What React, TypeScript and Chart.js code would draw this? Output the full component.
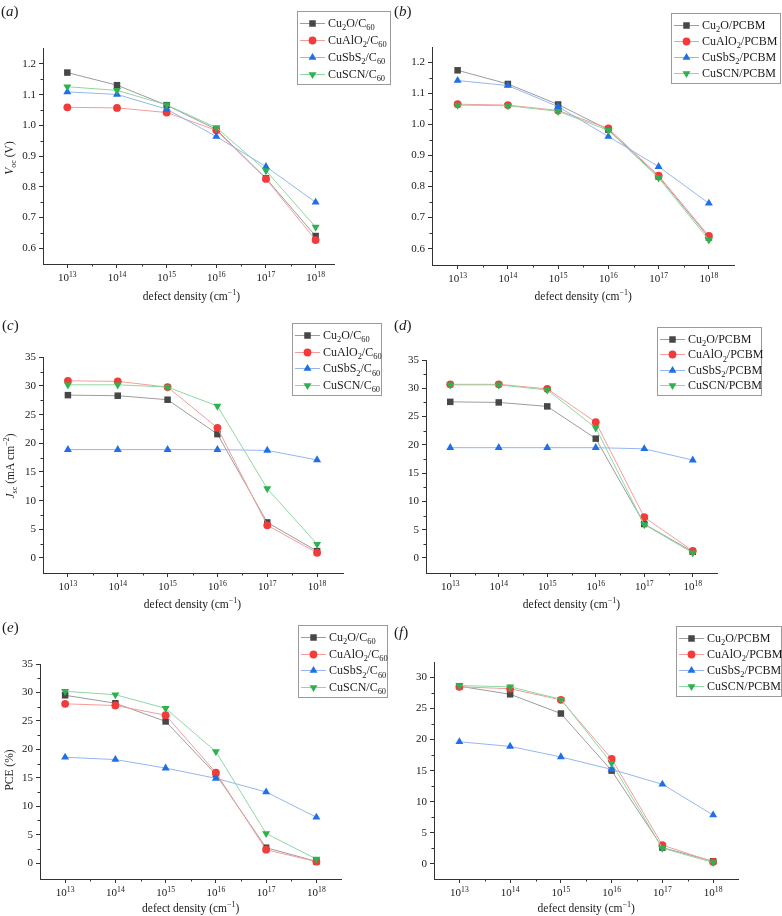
import React, { useEffect, useRef } from 'react';
import { Chart, registerables } from 'chart.js';
import { drawPoint } from 'chart.js/helpers';

Chart.register(...registerables);

// ---------------- data ----------------
const defectExponents = [13, 14, 15, 16, 17, 18];

const seriesC60 = ['Cu2O/C60', 'CuAlO2/C60', 'CuSbS2/C60', 'CuSCN/C60'];
const seriesPCBM = ['Cu2O/PCBM', 'CuAlO2/PCBM', 'CuSbS2/PCBM', 'CuSCN/PCBM'];

const vocTicks = [0.6, 0.7, 0.8, 0.9, 1.0, 1.1, 1.2];
const jscTicks = [0, 5, 10, 15, 20, 25, 30, 35];
const pceC60Ticks = [0, 5, 10, 15, 20, 25, 30, 35];
const pcePCBMTicks = [0, 5, 10, 15, 20, 25, 30];

// (a) Voc, C60
const vocC60Cu2O = [1.172, 1.131, 1.066, 0.987, 0.828, 0.64];
const vocC60CuAlO2 = [1.059, 1.057, 1.042, 0.984, 0.826, 0.627];
const vocC60CuSbS2 = [1.109, 1.101, 1.053, 0.964, 0.866, 0.75];
const vocC60CuSCN = [1.126, 1.114, 1.067, 0.993, 0.853, 0.669];

// (b) Voc, PCBM
const vocPCBMCu2O = [1.174, 1.13, 1.064, 0.983, 0.832, 0.636];
const vocPCBMCuAlO2 = [1.065, 1.062, 1.045, 0.987, 0.835, 0.641];
const vocPCBMCuSbS2 = [1.141, 1.125, 1.057, 0.961, 0.864, 0.746];
const vocPCBMCuSCN = [1.062, 1.06, 1.042, 0.981, 0.828, 0.628];

// (c) Jsc, C60
const jscC60Cu2O = [28.4, 28.3, 27.6, 21.6, 6.2, 1.2];
const jscC60CuAlO2 = [30.9, 30.8, 29.8, 22.7, 5.7, 0.9];
const jscC60CuSbS2 = [18.9, 18.9, 18.9, 18.9, 18.75, 17.1];
const jscC60CuSCN = [30.2, 30.2, 29.8, 26.5, 12.1, 2.4];

// (d) Jsc, PCBM
const jscPCBMCu2O = [27.6, 27.5, 26.8, 21.1, 6.0, 1.1];
const jscPCBMCuAlO2 = [30.7, 30.7, 29.9, 24.0, 7.2, 1.25];
const jscPCBMCuSbS2 = [19.5, 19.5, 19.5, 19.5, 19.3, 17.3];
const jscPCBMCuSCN = [30.6, 30.6, 29.7, 23.0, 5.9, 0.9];

// (e) PCE, C60
const pceC60Cu2O = [29.5, 28.1, 24.9, 15.6, 2.7, 0.3];
const pceC60CuAlO2 = [28.0, 27.7, 26.0, 15.9, 2.35, 0.25];
const pceC60CuSbS2 = [18.6, 18.2, 16.7, 14.9, 12.5, 8.05];
const pceC60CuSCN = [30.2, 29.6, 27.2, 19.6, 5.2, 0.7];

// (f) PCE, PCBM
const pcePCBMCu2O = [28.6, 27.3, 24.2, 15.0, 2.6, 0.4];
const pcePCBMCuAlO2 = [28.5, 28.2, 26.4, 16.9, 3.0, 0.3];
const pcePCBMCuSbS2 = [19.65, 18.9, 17.2, 15.2, 12.8, 7.85];
const pcePCBMCuSCN = [28.7, 28.5, 26.5, 16.2, 2.5, 0.2];

// ---------------- styles ----------------
const FONT = '"Liberation Serif", "Times New Roman", Times, serif';
const AXIS = '#333333';
const TEXT = '#1a1a1a';
const markerColors = ['#474747', '#f23b3b', '#1f6fe5', '#2db24f'];
const lineColors = ['#9c9c9c', '#f59c9c', '#95b6f2', '#8fd7a3'];
const pointStyles = ['rect', 'circle', 'triangle', 'triangle'];
const pointRotations = [0, 0, 0, 180];
const pointRadii = [4.6, 3.9, 4.6, 4.6];

Chart.defaults.font.family = FONT;

type Seg = { t: string; sub?: boolean; sup?: boolean; it?: boolean };

function parseLabel(s: string): Seg[] {
  const out: Seg[] = [];
  const re = /(\d+|\D+)/g;
  let m: RegExpExecArray | null;
  while ((m = re.exec(s))) {
    const t = m[0];
    out.push({ t, sub: /^\d+$/.test(t) });
  }
  return out;
}

function drawRich(
  ctx: CanvasRenderingContext2D,
  segs: Seg[],
  x: number,
  y: number,
  size: number,
  align: 'left' | 'center' | 'right',
  color: string
) {
  const fontFor = (s: Seg) =>
    `${s.it ? 'italic ' : ''}${s.sub || s.sup ? size * 0.7 : size}px ${FONT}`;
  let total = 0;
  const widths = segs.map((s) => {
    ctx.font = fontFor(s);
    const w = ctx.measureText(s.t).width;
    total += w;
    return w;
  });
  let cx = align === 'left' ? x : align === 'center' ? x - total / 2 : x - total;
  ctx.fillStyle = color;
  ctx.textAlign = 'left';
  ctx.textBaseline = 'alphabetic';
  segs.forEach((s, i) => {
    ctx.font = fontFor(s);
    const dy = s.sub ? size * 0.28 : s.sup ? -size * 0.4 : 0;
    ctx.fillText(s.t, cx, y + dy);
    cx += widths[i];
  });
}

type PanelCfg = {
  letter: string;
  x: number;
  y: number;
  w: number;
  h: number;
  area: { l: number; t: number; r: number; b: number };
  xMin: number;
  xMax: number;
  yMin: number;
  yMax: number;
  yTicks: number[];
  yDec: number;
  series: number[][];
  names: string[];
  yTitle: Seg[] | null;
  yTitlePos: [number, number];
  letterPos: [number, number];
  legend: { x: number; y: number; w: number; h: number };
  titleDy: number;
};

const xTitle: Seg[] = [{ t: 'defect density (cm' }, { t: '\u22121', sup: true }, { t: ')' }];

const panels: PanelCfg[] = [
  {
    letter: 'a', x: 0, y: 0, w: 391, h: 305,
    area: { l: 43, t: 48, r: 334, b: 264 },
    xMin: 12.51, xMax: 18.37, yMin: 0.549, yMax: 1.252, yTicks: vocTicks, yDec: 1,
    series: [vocC60Cu2O, vocC60CuAlO2, vocC60CuSbS2, vocC60CuSCN], names: seriesC60,
    yTitle: [{ t: 'V', it: true }, { t: 'oc', sub: true }, { t: ' (V)' }],
    yTitlePos: [9, 158], letterPos: [1, 16],
    legend: { x: 297, y: 11, w: 93, h: 73 }, titleDy: 36,
  },
  {
    letter: 'b', x: 391, y: 0, w: 391, h: 305,
    area: { l: 432, t: 47, r: 734, b: 265 },
    xMin: 12.49, xMax: 18.5, yMin: 0.5475, yMax: 1.249, yTicks: vocTicks, yDec: 1,
    series: [vocPCBMCu2O, vocPCBMCuAlO2, vocPCBMCuSbS2, vocPCBMCuSCN], names: seriesPCBM,
    yTitle: null, yTitlePos: [0, 0], letterPos: [394, 16],
    legend: { x: 671, y: 13, w: 109, h: 70 }, titleDy: 35,
  },
  {
    letter: 'c', x: 0, y: 305, w: 391, h: 307,
    area: { l: 43, t: 357, r: 343, b: 573 },
    xMin: 12.5, xMax: 18.52, yMin: -2.62, yMax: 35.05, yTicks: jscTicks, yDec: 0,
    series: [jscC60Cu2O, jscC60CuAlO2, jscC60CuSbS2, jscC60CuSCN], names: seriesC60,
    yTitle: [{ t: 'J', it: true }, { t: 'sc', sub: true }, { t: ' (mA cm' }, { t: '\u22122', sup: true }, { t: ')' }],
    yTitlePos: [10, 466], letterPos: [2, 330],
    legend: { x: 292, y: 323, w: 89, h: 72 }, titleDy: 35,
  },
  {
    letter: 'd', x: 391, y: 305, w: 391, h: 307,
    area: { l: 426, t: 360, r: 717, b: 573 },
    xMin: 12.5, xMax: 18.5, yMin: -2.66, yMax: 35.0, yTicks: jscTicks, yDec: 0,
    series: [jscPCBMCu2O, jscPCBMCuAlO2, jscPCBMCuSbS2, jscPCBMCuSCN], names: seriesPCBM,
    yTitle: null, yTitlePos: [0, 0], letterPos: [394, 330],
    legend: { x: 657, y: 327, w: 104, h: 68 }, titleDy: 35,
  },
  {
    letter: 'e', x: 0, y: 612, w: 391, h: 304,
    area: { l: 40, t: 664, r: 341, b: 879 },
    xMin: 12.5, xMax: 18.49, yMin: -2.8, yMax: 35.0, yTicks: pceC60Ticks, yDec: 0,
    series: [pceC60Cu2O, pceC60CuAlO2, pceC60CuSbS2, pceC60CuSCN], names: seriesC60,
    yTitle: [{ t: 'PCE (%)' }],
    yTitlePos: [9, 770], letterPos: [2, 632],
    legend: { x: 298, y: 625, w: 89, h: 72 }, titleDy: 33,
  },
  {
    letter: 'f', x: 391, y: 612, w: 391, h: 304,
    area: { l: 434, t: 662, r: 738, b: 879 },
    xMin: 12.5, xMax: 18.49, yMin: -2.46, yMax: 32.5, yTicks: pcePCBMTicks, yDec: 0,
    series: [pcePCBMCu2O, pcePCBMCuAlO2, pcePCBMCuSbS2, pcePCBMCuSCN], names: seriesPCBM,
    yTitle: null, yTitlePos: [0, 0], letterPos: [394, 637],
    legend: { x: 676, y: 626, w: 105, h: 70 }, titleDy: 33,
  },
];

function hLine(ctx: CanvasRenderingContext2D, x1: number, y: number, x2: number) {
  ctx.beginPath();
  ctx.moveTo(x1, y);
  ctx.lineTo(x2, y);
  ctx.stroke();
}
function vLine(ctx: CanvasRenderingContext2D, x: number, y1: number, y2: number) {
  ctx.beginPath();
  ctx.moveTo(x, y1);
  ctx.lineTo(x, y2);
  ctx.stroke();
}

function Panel({ cfg }: { cfg: PanelCfg }) {
  const ref = useRef<HTMLCanvasElement>(null);

  useEffect(() => {
    const canvas = ref.current;
    if (!canvas) return;
    const ox = cfg.x;
    const oy = cfg.y;

    const decor = {
      id: 'decor',
      afterDraw(chart: any) {
        const ctx: CanvasRenderingContext2D = chart.ctx;
        const xs = chart.scales.x;
        const ys = chart.scales.y;
        const area = chart.chartArea;
        ctx.save();
        ctx.strokeStyle = AXIS;
        ctx.lineWidth = 1;
        // minor ticks x
        for (let i = 0; i < defectExponents.length - 1; i++) {
          const v = (defectExponents[i] + defectExponents[i + 1]) / 2;
          const px = Math.round(xs.getPixelForValue(v)) + 0.5;
          vLine(ctx, px, area.bottom, area.bottom + 2.5);
        }
        // minor ticks y
        const yt = cfg.yTicks;
        const step = yt[1] - yt[0];
        const mids: number[] = [];
        for (let i = 0; i < yt.length - 1; i++) mids.push((yt[i] + yt[i + 1]) / 2);
        if (yt[0] - step / 2 > cfg.yMin + step * 0.15) mids.push(yt[0] - step / 2);
        if (yt[yt.length - 1] + step / 2 < cfg.yMax - step * 0.15) mids.push(yt[yt.length - 1] + step / 2);
        mids.forEach((v) => {
          const py = Math.round(ys.getPixelForValue(v)) + 0.5;
          hLine(ctx, area.left - 2.5, py, area.left);
        });
        // x tick labels
        defectExponents.forEach((e) => {
          const px = xs.getPixelForValue(e);
          drawRich(ctx, [{ t: '10' }, { t: String(e), sup: true }], px, area.bottom + 17, 11, 'center', TEXT);
        });
        // x title
        drawRich(ctx, xTitle, xs.getPixelForValue(15.5), area.bottom + cfg.titleDy, 11.5, 'center', TEXT);
        // y title
        if (cfg.yTitle) {
          ctx.save();
          ctx.translate(cfg.yTitlePos[0] - ox, cfg.yTitlePos[1] - oy);
          ctx.rotate(-Math.PI / 2);
          drawRich(ctx, cfg.yTitle, 0, 4, 11.5, 'center', TEXT);
          ctx.restore();
        }
        // panel letter
        drawRich(
          ctx,
          [{ t: '(' }, { t: cfg.letter, it: true }, { t: ')' }],
          cfg.letterPos[0] - ox,
          cfg.letterPos[1] - oy,
          15,
          'left',
          TEXT
        );
        // legend
        const L = cfg.legend;
        const lx = L.x - ox;
        const ly = L.y - oy;
        ctx.fillStyle = '#ffffff';
        ctx.fillRect(lx, ly, L.w, L.h);
        ctx.strokeStyle = '#9a9a9a';
        ctx.lineWidth = 1;
        ctx.strokeRect(Math.round(lx) + 0.5, Math.round(ly) + 0.5, Math.round(L.w), Math.round(L.h));
        const rowH = (L.h - 22) / 3;
        cfg.names.forEach((name, i) => {
          const cy = ly + 12 + i * rowH;
          ctx.strokeStyle = lineColors[i];
          ctx.lineWidth = 1;
          hLine(ctx, lx + 3, Math.round(cy) + 0.5, lx + 28);
          ctx.fillStyle = markerColors[i];
          ctx.strokeStyle = markerColors[i];
          drawPoint(
            ctx,
            { pointStyle: pointStyles[i], rotation: pointRotations[i], radius: pointRadii[i], borderWidth: 0 } as any,
            lx + 15.5,
            Math.round(cy) + 0.5
          );
          drawRich(ctx, parseLabel(name), lx + 31, cy + 4, 12, 'left', TEXT);
        });
        ctx.restore();
      },
    };

    const chart = new Chart(canvas, {
      type: 'line',
      data: {
        datasets: cfg.names.map((name, i) => ({
          label: name,
          data: defectExponents.map((e, j) => ({ x: e, y: cfg.series[i][j] })),
          borderColor: lineColors[i],
          backgroundColor: markerColors[i],
          pointBackgroundColor: markerColors[i],
          pointBorderColor: markerColors[i],
          pointBorderWidth: 0,
          pointStyle: pointStyles[i] as any,
          pointRotation: pointRotations[i],
          pointRadius: pointRadii[i],
          borderWidth: 1,
          tension: 0,
          order: cfg.names.length - 1 - i,
          clip: false as any,
        })),
      },
      options: {
        responsive: false,
        maintainAspectRatio: false,
        animation: false,
        events: [],
        layout: {
          padding: {
            left: 0,
            top: cfg.area.t - cfg.y,
            right: cfg.x + cfg.w - cfg.area.r,
            bottom: 0,
          },
        },
        plugins: {
          legend: { display: false },
          tooltip: { enabled: false },
          title: { display: false },
        },
        scales: {
          x: {
            type: 'linear',
            min: cfg.xMin,
            max: cfg.xMax,
            afterFit: (s: any) => {
              s.height = cfg.y + cfg.h - cfg.area.b;
            },
            afterBuildTicks: (s: any) => {
              s.ticks = defectExponents.map((v) => ({ value: v }));
            },
            ticks: { display: false },
            grid: {
              drawOnChartArea: false,
              drawTicks: true,
              tickLength: 4,
              color: AXIS,
              tickColor: AXIS,
              lineWidth: 1,
            },
            border: { display: true, color: AXIS, width: 1 },
          },
          y: {
            type: 'linear',
            min: cfg.yMin,
            max: cfg.yMax,
            afterFit: (s: any) => {
              s.width = cfg.area.l - cfg.x;
            },
            afterBuildTicks: (s: any) => {
              s.ticks = cfg.yTicks.map((v) => ({ value: v }));
            },
            ticks: {
              callback: (v: any) => Number(v).toFixed(cfg.yDec),
              font: { family: FONT, size: 11 },
              color: TEXT,
              padding: 3,
            },
            grid: {
              drawOnChartArea: false,
              drawTicks: true,
              tickLength: 4,
              color: AXIS,
              tickColor: AXIS,
              lineWidth: 1,
            },
            border: { display: true, color: AXIS, width: 1 },
          },
        },
      },
      plugins: [decor],
    });

    return () => chart.destroy();
  }, [cfg]);

  return (
    <canvas
      ref={ref}
      width={cfg.w}
      height={cfg.h}
      style={{ position: 'absolute', left: cfg.x, top: cfg.y, width: cfg.w, height: cfg.h }}
    />
  );
}

export default function App() {
  return (
    <div
      style={{
        position: 'absolute',
        left: 0,
        top: 0,
        width: 782,
        height: 916,
        background: '#ffffff',
        overflow: 'hidden',
      }}
    >
      {panels.map((p) => (
        <Panel key={p.letter} cfg={p} />
      ))}
    </div>
  );
}
